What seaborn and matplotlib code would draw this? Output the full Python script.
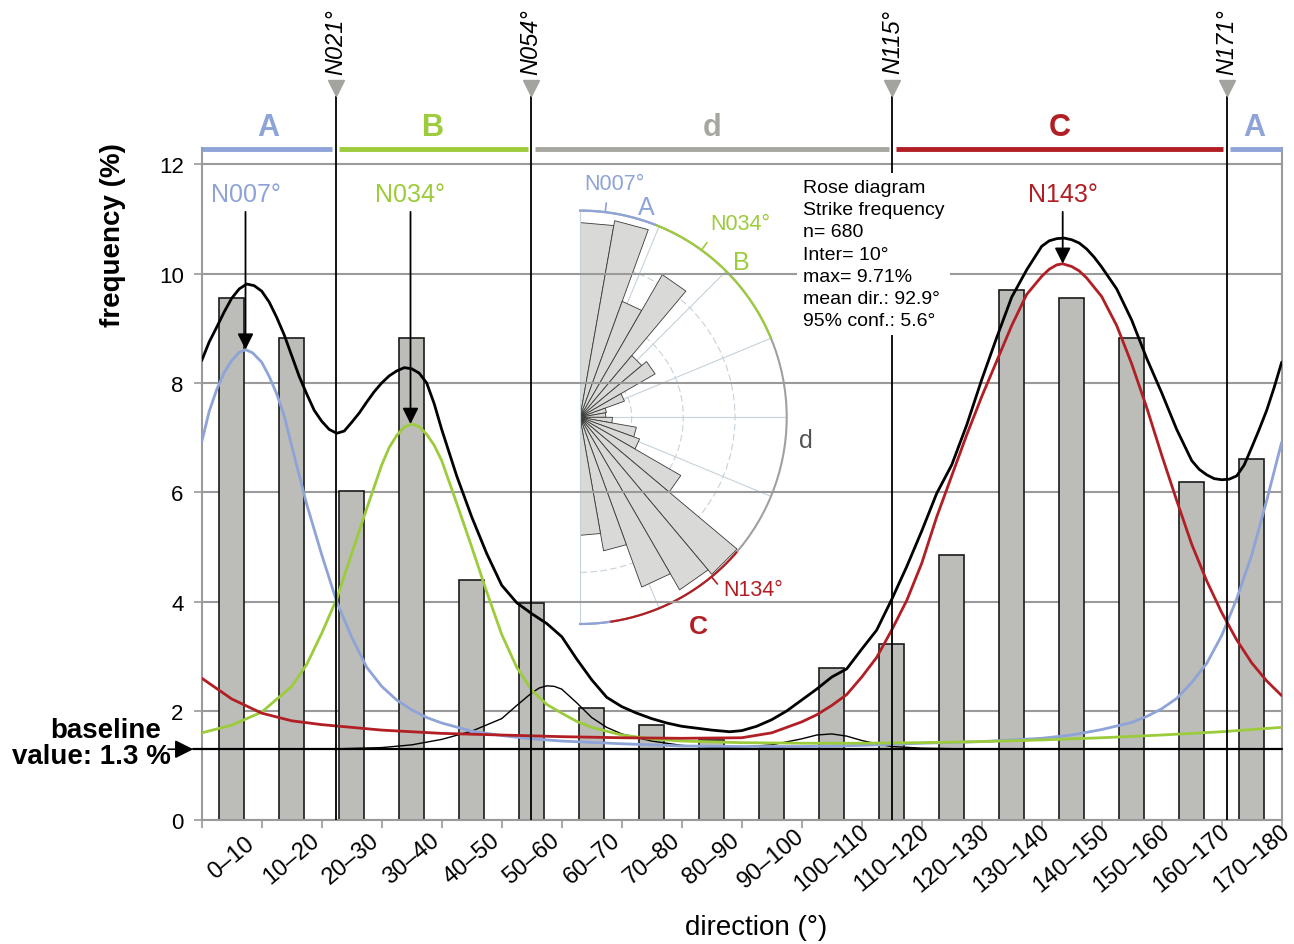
import numpy as np
import matplotlib
matplotlib.use("Agg")
import matplotlib.pyplot as plt
import seaborn as sns

# ---------------------------------------------------------------
# Values
# ---------------------------------------------------------------
BIN_EDGES = list(range(0, 190, 10))
BIN_LABELS = [f"{a}–{a + 10}" for a in range(0, 180, 10)]
BIN_CENTERS = [a + 5 for a in range(0, 180, 10)]
FREQ = [9.55, 8.83, 6.03, 8.83, 4.40, 3.97, 2.06, 1.75, 1.46, 1.33,
        2.79, 3.23, 4.85, 9.70, 9.55, 8.82, 6.18, 6.61]

BASELINE = 1.3

# component A (blue)
A_X = [0, 1.25, 2.5, 3.75, 5, 6.25, 7.3, 8.5, 10, 11.25, 12.5, 13.75, 15,
       17.5, 20, 22.5, 25, 27.5, 30, 32.5, 35, 37.5, 40, 45, 50, 55, 60, 70,
       80, 90, 100, 110, 120, 130, 140, 145, 150, 155, 157.5, 160, 162.5,
       165, 167.5, 170, 172.5, 175, 177.5, 180]
A_Y = [6.92, 7.48, 7.88, 8.19, 8.41, 8.56, 8.61, 8.55, 8.38, 8.12, 7.80,
       7.40, 6.85, 5.78, 4.86, 4.00, 3.35, 2.80, 2.45, 2.20, 2.02, 1.88,
       1.78, 1.63, 1.55, 1.49, 1.45, 1.40, 1.36, 1.35, 1.35, 1.37, 1.41,
       1.44, 1.50, 1.56, 1.66, 1.79, 1.90, 2.04, 2.23, 2.52, 2.87, 3.38,
       4.05, 4.85, 5.85, 6.92]

# component B (green)
B_X = [0, 5, 10, 15, 17.5, 20, 22.5, 25, 27.5, 30, 31.25, 32.5, 33.75, 35,
       36.25, 37.5, 38.75, 40, 42.5, 45, 47.5, 50, 52.5, 55, 57.5, 60, 62.5,
       65, 70, 75, 80, 90, 100, 110, 120, 130, 140, 150, 160, 170, 180]
B_Y = [1.60, 1.74, 1.98, 2.45, 2.85, 3.42, 4.05, 4.88, 5.70, 6.50, 6.82,
       7.04, 7.19, 7.25, 7.20, 7.06, 6.86, 6.58, 5.80, 5.00, 4.18, 3.40,
       2.80, 2.38, 2.12, 1.96, 1.81, 1.70, 1.56, 1.49, 1.45, 1.42, 1.41,
       1.41, 1.42, 1.44, 1.47, 1.51, 1.56, 1.62, 1.70]

# component C (red)
C_X = [0, 5, 10, 15, 20, 30, 40, 50, 60, 70, 80, 90, 95, 100, 102.5, 105,
       107.5, 110, 112.5, 115, 117.5, 120, 122.5, 125, 127.5, 130, 132.5,
       135, 137.5, 140, 141.25, 142.5, 143.5, 145, 146.25, 147.5, 150,
       152.5, 155, 157.5, 160, 162.5, 165, 167.5, 170, 172.5, 175, 177.5,
       180]
C_Y = [2.60, 2.22, 1.96, 1.82, 1.75, 1.65, 1.59, 1.56, 1.53, 1.51, 1.50,
       1.51, 1.60, 1.80, 1.93, 2.10, 2.30, 2.62, 2.98, 3.48, 4.02, 4.70,
       5.55, 6.30, 7.05, 7.75, 8.40, 9.05, 9.62, 9.95, 10.08, 10.16, 10.18,
       10.13, 10.05, 9.92, 9.58, 9.05, 8.35, 7.55, 6.68, 5.85, 5.05, 4.38,
       3.80, 3.30, 2.88, 2.55, 2.28]

# component d (thin black)
D_X = [0, 20, 30, 35, 40, 45, 50, 52.5, 55, 56.25, 57.5, 58.75, 60, 62.5,
       65, 67.5, 70, 75, 80, 85, 90, 95, 100, 102.5, 105, 107.5, 110, 112.5,
       115, 120, 130, 180]
D_Y = [1.30, 1.30, 1.33, 1.38, 1.48, 1.63, 1.86, 2.10, 2.33, 2.42, 2.46,
       2.45, 2.40, 2.15, 1.88, 1.70, 1.58, 1.45, 1.37, 1.34, 1.34, 1.38,
       1.49, 1.56, 1.58, 1.54, 1.46, 1.40, 1.35, 1.32, 1.30, 1.30]

# sum of all components (thick black)
T_X = [0, 1.25, 2.5, 3.75, 5, 6.25, 7.5, 8.75, 10, 11.25, 12.5, 13.75, 15,
       16.25, 17.5, 18.75, 20, 21.25, 22.5, 23.75, 25, 26.25, 27.5, 28.75,
       30, 31.25, 32.5, 33.75, 35, 36.25, 37.5, 38.75, 40, 42.5, 45, 47.5,
       50, 52.5, 55, 57.5, 60, 62.5, 65, 67.5, 70, 72.5, 75, 77.5, 80, 85,
       88, 90, 92.5, 95, 97.5, 100, 102.5, 105, 107.5, 110, 112.5, 115,
       117.5, 120, 122.5, 125, 127.5, 130, 132.5, 135, 137.5, 140, 141.25,
       142.5, 143.75, 145, 146.25, 147.5, 148.75, 150, 152.5, 155, 157.5,
       160, 162.5, 165, 166.25, 167.5, 168.75, 170, 171.25, 172.5, 173.75,
       175, 176.25, 177.5, 178.75, 180]
T_Y = [8.41, 8.75, 9.02, 9.30, 9.55, 9.72, 9.81, 9.78, 9.68, 9.48, 9.20,
       8.88, 8.50, 8.12, 7.80, 7.50, 7.30, 7.15, 7.08, 7.12, 7.28, 7.45,
       7.65, 7.84, 8.00, 8.13, 8.22, 8.28, 8.26, 8.18, 8.00, 7.62, 7.15,
       6.30, 5.55, 4.88, 4.30, 3.98, 3.78, 3.60, 3.36, 2.95, 2.57, 2.25,
       2.08, 1.96, 1.86, 1.78, 1.72, 1.65, 1.62, 1.64, 1.72, 1.84, 2.00,
       2.20, 2.40, 2.62, 2.77, 3.13, 3.48, 4.04, 4.64, 5.29, 5.98, 6.50,
       7.23, 8.06, 8.83, 9.57, 10.07, 10.50, 10.60, 10.64, 10.65, 10.62,
       10.56, 10.45, 10.30, 10.12, 9.72, 9.15, 8.45, 7.82, 7.15, 6.58,
       6.42, 6.32, 6.25, 6.23, 6.24, 6.30, 6.50, 6.82, 7.15, 7.50, 7.92,
       8.38]

# domain limits and labels
SPLIT_DIRS = [22.3, 54.9, 115.1, 170.8]
SPLIT_LABELS = ["N021°", "N054°", "N115°", "N171°"]
SEG_EDGES = [0, 22.3, 54.9, 115.1, 170.8, 180]
SEG_NAMES = ["A", "B", "d", "C", "A"]

# peak arrows
PEAK_DIRS = [7.3, 34.8, 143.5]
PEAK_VALS = [8.61, 7.25, 10.18]
PEAK_LABELS = ["N007°", "N034°", "N143°"]

# rose diagram (radius on a 0-10 scale)
ROSE_R = [9.42, 9.66, 5.97, 7.97, 3.90, 4.20, 2.29, 1.30, 1.25, 1.57,
          2.77, 3.07, 5.63, 9.92, 9.64, 8.74, 6.56, 5.71]
ROSE_ARC_EDGES = [0, 21.8, 67.3, 130.8, 171.8, 180]
ROSE_TICKS = [7, 36, 140.5]

INFO = ("Rose diagram\nStrike frequency\nn= 680\nInter= 10°\n"
        "max= 9.71%\nmean dir.: 92.9°\n95% conf.: 5.6°")

BLUE = "#8ea3d8"
GREEN = "#9ccb3b"
RED = "#b11f24"
SEG_GRAY = "#a7a7a2"
AXIS_GRAY = "#9a9a9a"
SEG_COLORS = [BLUE, GREEN, SEG_GRAY, RED, BLUE]
PEAK_COLORS = [BLUE, GREEN, RED]

sns.set_style("white")
plt.rcParams["font.family"] = ["Liberation Sans", "DejaVu Sans"]
plt.rcParams["text.color"] = "black"
plt.rcParams["xtick.color"] = "black"
plt.rcParams["ytick.color"] = "black"

fig = plt.figure(figsize=(12.94, 9.45), dpi=100)

# ---------------- rose diagram inset (drawn under the main axes) ----------------
ax_r = fig.add_axes([476.65 / 1294, 320 / 945, 413.4 / 1294, 413.4 / 945],
                    projection="polar", zorder=0)
ax_r.set_theta_zero_location("N")
ax_r.set_theta_direction(-1)
ax_r.set_thetamin(0)
ax_r.set_thetamax(180)
ax_r.patch.set_alpha(0)
petals = ax_r.bar(np.radians(BIN_CENTERS), ROSE_R, width=np.radians(10),
                  color="#d9dad7", edgecolor="#3a3a3a", linewidth=0.6, zorder=2)
ax_r.set_ylim(0, 10)
ax_r.set_xticks(np.radians([22.5, 45, 67.5, 90, 112.5, 135, 157.5]))
ax_r.set_xticklabels([])
ax_r.set_yticks([2.5, 5, 7.5])
ax_r.set_yticklabels([])
ax_r.xaxis.grid(True, color="#c5d2da", lw=0.8)
ax_r.yaxis.grid(True, color="#c5d2da", lw=0.8, ls=(0, (6, 3)))
ax_r.spines["polar"].set_color("#a0a0a0")
ax_r.spines["polar"].set_linewidth(1.5)
for side in ["start", "end"]:
    ax_r.spines[side].set_color("#c5d2da")
    ax_r.spines[side].set_linewidth(0.8)
ax_r.spines["inner"].set_visible(False)

for i, col in enumerate(SEG_COLORS):
    if col == SEG_GRAY:
        continue
    th = np.radians(np.linspace(ROSE_ARC_EDGES[i], ROSE_ARC_EDGES[i + 1], 60))
    ax_r.plot(th, np.full(th.size, 10.0), color=col, lw=1.6, clip_on=False, zorder=4)
for t, col in zip(ROSE_TICKS, PEAK_COLORS):
    ax_r.plot(np.radians([t, t]), [10, 10.45], color=col, lw=1.2, clip_on=False, zorder=4)

rose_text = [("N007°", 8.3, 11.41, BLUE, "normal", 15.5),
             ("A", 17.4, 10.66, BLUE, "normal", 18),
             ("N034°", 39.6, 12.14, GREEN, "normal", 15.5),
             ("B", 46.0, 10.82, GREEN, "normal", 18),
             ("d", 95.7, 10.99, "#555555", "normal", 18),
             ("N134°", 134.8, 11.79, RED, "normal", 15.5),
             ("C", 150.5, 11.60, RED, "bold", 19)]
for txt, ang, r, col, wt, fs in rose_text:
    ax_r.text(np.radians(ang), r, txt, color=col, fontweight=wt, fontsize=fs,
              ha="center", va="center")

# ---------------- main chart ----------------
ax = fig.add_axes([201.7 / 1294, 1 - 821.3 / 945, 1080 / 1294, 672.4 / 945], zorder=1)
ax.patch.set_alpha(0)

sns.barplot(x=BIN_CENTERS, y=FREQ, native_scale=True, width=0.41,
            color="#bcbdb8", saturation=1, edgecolor="#1a1a1a", linewidth=1.2,
            errorbar=None, ax=ax, zorder=2)

sns.lineplot(x=D_X, y=D_Y, color="black", lw=1.0, sort=False, ax=ax, zorder=3)
sns.lineplot(x=A_X, y=A_Y, color=BLUE, lw=2.0, sort=False, ax=ax, zorder=4)
sns.lineplot(x=B_X, y=B_Y, color=GREEN, lw=2.0, sort=False, ax=ax, zorder=4)
sns.lineplot(x=C_X, y=C_Y, color=RED, lw=2.0, sort=False, ax=ax, zorder=4)
sns.lineplot(x=T_X, y=T_Y, color="black", lw=2.0, sort=False, ax=ax, zorder=5)
ax.plot([-1.4, 180], [BASELINE, BASELINE], color="black", lw=1.6, clip_on=False, zorder=4)

ax.set_xlim(0, 180)
ax.set_ylim(0, 12.3)

# vertical domain limits, triangles and labels
ax.vlines(SPLIT_DIRS, 0, 13.25, colors="black", lw=1.3, clip_on=False, zorder=5)
ax.plot(SPLIT_DIRS, [13.40] * len(SPLIT_DIRS), "v", ms=12, color="#a3a39f",
        ls="", clip_on=False, zorder=6)
for d, lab in zip(SPLIT_DIRS, SPLIT_LABELS):
    ax.text(d, 14.25, lab, rotation=90, ha="center", va="center",
            style="italic", fontsize=17, clip_on=False)

# coloured domain bars on top
gap = 0.6
for i, (name, col) in enumerate(zip(SEG_NAMES, SEG_COLORS)):
    a, b = SEG_EDGES[i], SEG_EDGES[i + 1]
    a0 = a + gap if a > 0 else a
    b0 = b - gap if b < 180 else b
    ax.plot([a0, b0], [12.28, 12.28], color=col, lw=3.5,
            solid_capstyle="butt", clip_on=False, zorder=6)
    ax.text((a + b) / 2, 12.68, name, color=col, fontweight="bold",
            fontsize=22, ha="center", va="center", clip_on=False)

# peak arrows
for d, v, lab, col in zip(PEAK_DIRS, PEAK_VALS, PEAK_LABELS, PEAK_COLORS):
    ax.annotate("", xy=(d, v), xytext=(d, 11.13),
                arrowprops=dict(arrowstyle="-|>", color="black", lw=1.3,
                                mutation_scale=24, shrinkA=0, shrinkB=0),
                zorder=7)
    ax.text(d, 11.46, lab, color=col, fontsize=18, ha="center", va="center")

# info box
ax.text(100.2, 11.73, INFO, ha="left", va="top", fontsize=14, linespacing=1.4,
        bbox=dict(facecolor="white", edgecolor="none", pad=4), zorder=8)

# baseline annotation
ax.annotate("", xy=(-1.4, BASELINE), xytext=(-5.6, BASELINE),
            arrowprops=dict(arrowstyle="-|>", color="black", lw=1.2,
                            mutation_scale=28, shrinkA=0, shrinkB=0),
            annotation_clip=False)
ax.text(-16.0, 1.66, "baseline", fontsize=20, fontweight="bold",
        ha="center", va="center", clip_on=False)
ax.text(-18.3, 1.17, "value: 1.3 %", fontsize=20, fontweight="bold",
        ha="center", va="center", clip_on=False)

# axes styling
ax.set_yticks(range(0, 13, 2))
ax.yaxis.grid(True, color=AXIS_GRAY, lw=1.5)
ax.xaxis.grid(False)
ax.set_axisbelow(True)
ax.set_xticks(BIN_EDGES)
ax.set_xticklabels([])
ax.set_xticks(BIN_CENTERS, minor=True)
ax.set_xticklabels(BIN_LABELS, minor=True, rotation=40, ha="center",
                   va="center", rotation_mode="anchor", fontsize=17)
ax.tick_params(axis="x", which="major", length=6, width=1.2, color=AXIS_GRAY,
               direction="out", bottom=True)
ax.tick_params(axis="x", which="minor", length=0, pad=27)
ax.tick_params(axis="y", length=6, width=1.2, color=AXIS_GRAY, direction="out",
               left=True, labelsize=16, pad=7)
ax.spines["top"].set_visible(False)
for side in ["left", "right", "bottom"]:
    ax.spines[side].set_color(AXIS_GRAY)
    ax.spines[side].set_linewidth(1.5)
ax.set_xlabel("")
ax.set_ylabel("")
ax.text(0.513, -0.159, "direction (°)", transform=ax.transAxes, fontsize=20,
        ha="center", va="center")
ax.text(-0.0821, 0.872, "frequency (%)", transform=ax.transAxes, fontsize=20,
        fontweight="bold", rotation=90, ha="center", va="center")

# flat petal tips in the rose, like the original (bar() sets curved tops)
for p in petals:
    p.get_path()._interpolation_steps = 1

fig.savefig("out.png", dpi=100)
